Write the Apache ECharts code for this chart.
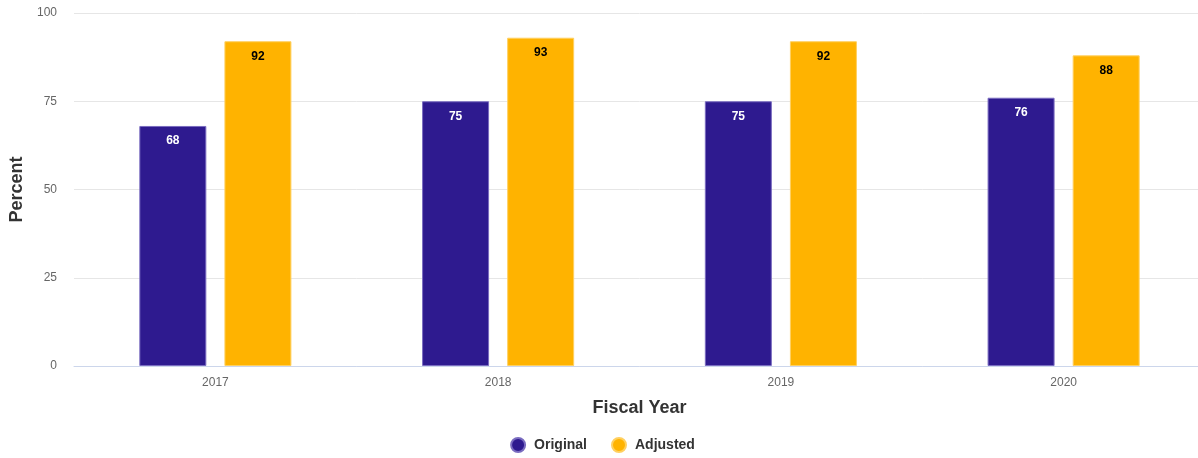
<!DOCTYPE html>
<html><head><meta charset="utf-8">
<script src="https://cdn.jsdelivr.net/npm/echarts@6/dist/echarts.min.js"></script>
<style>html,body{margin:0;padding:0;background:#fff;overflow:hidden}#c{width:1205px;height:458px}</style>
</head><body><div id="c"></div>
<script>
const categories = ['2017', '2018', '2019', '2020'];
const originalValues = [68, 75, 75, 76];
const adjustedValues = [92, 93, 92, 88];
const yTicks = [0, 25, 50, 75, 100];

const chart = echarts.init(document.getElementById('c'));
chart.setOption({
  animation: false,
  textStyle: { fontFamily: 'Arial, "Liberation Sans", sans-serif' },
  grid: { left: 74, right: 0, top: 13, bottom: 92 },
  legend: {
    bottom: 0, icon: 'circle', itemWidth: 14, itemHeight: 14, itemGap: 24,
    textStyle: { fontSize: 14, fontWeight: 'bold', color: '#333', padding: [0, 0, 0, 4] },
    data: ['Original', 'Adjusted']
  },
  xAxis: {
    type: 'category', data: categories,
    name: 'Fiscal Year', nameLocation: 'middle', nameGap: 33,
    nameTextStyle: { fontSize: 18, fontWeight: 'bold', color: '#333' },
    axisLine: { lineStyle: { color: '#ccd6eb' } },
    axisTick: { show: false },
    axisLabel: { color: '#666', fontSize: 12, margin: 11 }
  },
  yAxis: {
    type: 'value', min: 0, max: 100, interval: 25,
    name: 'Percent', nameLocation: 'middle', nameGap: 48,
    nameTextStyle: { fontSize: 18, fontWeight: 'bold', color: '#333' },
    axisLabel: { color: '#666', fontSize: 12, margin: 17,
      formatter: v => yTicks.includes(v) ? String(v) : '' },
    splitLine: { lineStyle: { color: '#e6e6e6' } }
  },
  series: [
    { name: 'Original', type: 'bar', data: originalValues, barWidth: 67, barGap: '27%',
      itemStyle: { color: '#2e1a8f', borderColor: '#7a6cc0', borderWidth: 1 },
      label: { show: true, position: 'insideTop', distance: 9, color: '#fff', fontWeight: 'bold', fontSize: 12 } },
    { name: 'Adjusted', type: 'bar', data: adjustedValues, barWidth: 67,
      itemStyle: { color: '#ffb300', borderColor: '#ffd060', borderWidth: 1 },
      label: { show: true, position: 'insideTop', distance: 9, color: '#000', fontWeight: 'bold', fontSize: 12 } }
  ]
});
</script></body></html>
